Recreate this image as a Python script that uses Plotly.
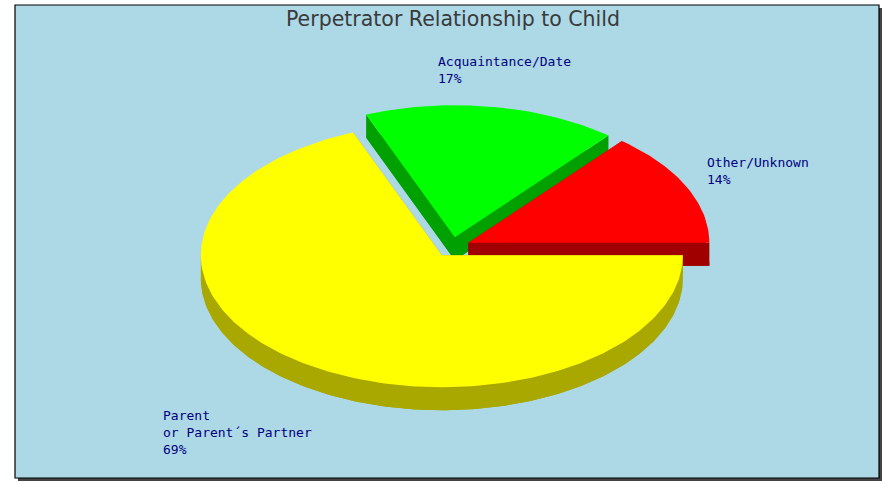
import numpy as np
import plotly.graph_objects as go

# ---- data ----
categories = ["Parent<br>or Parent\u00b4s Partner", "Acquaintance/Date", "Other/Unknown"]
percentages = [69, 17, 14]
top_colors = ["#FFFF00", "#00FF00", "#FF0000"]
side_colors = ["#A8A800", "#00A000", "#A00000"]
title_text = "Perpetrator Relationship to Child"

# ---- layout constants (pixel space) ----
W, H = 882, 482
CX, CY = 452, 247          # pie centre
RX, RY = 241, 132          # ellipse radii
DEPTH = 23                 # extrusion depth
PULL = 0.075               # explode factor (fraction of radius)
LABEL_POS = [(161, 432), (436, 69.5), (705, 170.5)]  # left x, middle y for each label
BG = "#ADD8E6"


def pt(theta_deg, ox=0.0, oy=0.0, dy=0.0):
    t = np.radians(theta_deg)
    return ox + RX * np.cos(t), oy - RY * np.sin(t) + dy


total = sum(percentages)
slices = []
start = 0.0
for i, v in enumerate(percentages):
    sweep = 360.0 * v / total
    a0, a1 = start - sweep, start          # clockwise from 3 o'clock
    mid = (a0 + a1) / 2
    ox = CX + PULL * RX * np.cos(np.radians(mid))
    oy = CY - PULL * RY * np.sin(np.radians(mid))
    slices.append(dict(i=i, a0=a0, a1=a1, mid=mid, ox=ox, oy=oy))
    start = a0

fig = go.Figure()


def poly(xs, ys, color, name, hover=True):
    fig.add_trace(go.Scatter(
        x=list(xs) + [xs[0]], y=list(ys) + [ys[0]], mode="lines", fill="toself",
        fillcolor=color, line=dict(width=0, color=color), showlegend=False,
        hoverinfo="text" if hover else "skip", text=name, hoveron="fills"))


def arc(a_from, a_to, ox, oy, dy=0.0, n=None):
    if n is None:
        n = max(4, int(abs(a_to - a_from) / 1.0) + 1)
    th = np.linspace(a_from, a_to, n)
    xs, ys = pt(th, ox, oy, dy)
    return list(xs), list(ys)


# draw back-to-front: slices whose centre is higher on screen first
order = sorted(slices, key=lambda s: s["oy"] - RY * 0.5 * np.sin(np.radians(s["mid"])))
for s in order:
    i = s["i"]
    name = f"{categories[i].replace('<br>', ' ')}: {percentages[i]}%"
    ox, oy, a0, a1 = s["ox"], s["oy"], s["a0"], s["a1"]
    ax_, ay_ = arc(a0, a1, ox, oy)
    # bottom face
    poly([ox] + ax_, [oy + DEPTH] + [y + DEPTH for y in ay_], side_colors[i], name, False)
    # radial walls
    for a in (a0, a1):
        px, py = pt(a, ox, oy)
        poly([ox, px, px, ox], [oy, py, py + DEPTH, oy + DEPTH], side_colors[i], name, False)
    # front-facing outer wall (sin < 0 region)
    lo, hi = max(a0, -180.0), min(a1, 0.0)
    if hi > lo:
        fx, fy = arc(lo, hi, ox, oy)
        bx, by = arc(hi, lo, ox, oy, DEPTH)
        poly(fx + bx, fy + by, side_colors[i], name, False)
    # top face
    poly([ox] + ax_, [oy] + ay_, top_colors[i], name)

for i, (lx, ly) in enumerate(LABEL_POS):
    fig.add_annotation(x=lx, y=ly, xref="x", yref="y", xanchor="left", yanchor="middle",
                       align="left", showarrow=False,
                       text=f"{categories[i]}<br>{percentages[i]}%",
                       font=dict(family="DejaVu Sans Mono", size=13, color="#000080"))

fig.update_layout(
    width=W, height=H, margin=dict(l=0, r=0, t=0, b=0),
    paper_bgcolor="white", plot_bgcolor="rgba(0,0,0,0)",
    xaxis=dict(range=[0, W], visible=False, fixedrange=True),
    yaxis=dict(range=[H, 0], visible=False, fixedrange=True),
    title=dict(text=title_text, x=453 / W, xanchor="center", y=1 - 19 / H, yanchor="middle",
               font=dict(family="DejaVu Sans", size=20.5, color="#3a3a3a")),
    shapes=[
        dict(type="rect", xref="x", yref="y", x0=18, y0=8, x1=882, y1=481,
             fillcolor="#444444", line=dict(width=0), layer="below"),
        dict(type="rect", xref="x", yref="y", x0=15, y0=5, x1=879, y1=478,
             fillcolor=BG, line=dict(width=1.2, color="black"), layer="below"),
    ],
    showlegend=False,
)

fig.write_html("out.html", config={"displayModeBar": False},
               post_script="document.body.style.margin='0';document.body.style.overflow='hidden';")
